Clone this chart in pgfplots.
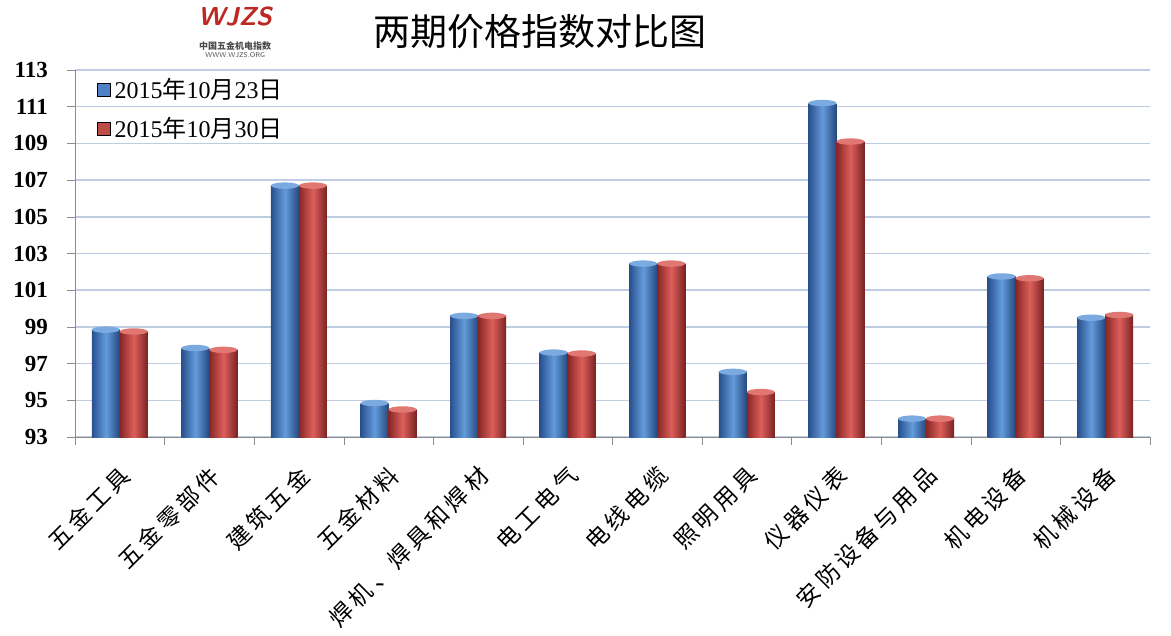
\documentclass[border=0pt]{standalone}
\usepackage{pgfplots}
\usepackage{pgfplotstable}
\pgfplotsset{compat=1.18}
\usepackage{fontspec}
\setmainfont{Liberation Serif}
\newfontfamily\cjk{Noto Sans CJK SC}
\newfontfamily\cjkls[LetterSpace=18]{Noto Sans CJK SC}
\definecolor{blueL}{RGB}{100,155,220}
\definecolor{blueD}{RGB}{40,80,140}
\definecolor{redL}{RGB}{220,95,90}
\definecolor{redD}{RGB}{135,38,38}
\definecolor{blueF}{RGB}{80,130,200}
\definecolor{redF}{RGB}{190,75,70}
\definecolor{gridc}{RGB}{190,205,225}
\definecolor{axc}{RGB}{140,140,140}
\definecolor{logo}{RGB}{190,40,35}

\pgfdeclareplotmark{cap}{%
  \pgfpathellipse{\pgfpointorigin}{\pgfqpoint{7pt}{0pt}}{\pgfqpoint{0pt}{1.6pt}}%
  \pgfusepathqfill}

% x  wk1 (10/23)  wk2 (10/30)
\pgfplotstableread{
x  a       b
0  98.85   98.75
1  97.85   97.75
2  106.7   106.7
3  94.85   94.5
4  99.6    99.6
5  97.6    97.55
6  102.45  102.45
7  96.55   95.45
8  111.2   109.1
9  94.0    94.0
10 101.75  101.65
11 99.5    99.65
}\data

\begin{document}
\begin{tikzpicture}
\begin{axis}[
    scale only axis,
    width=537.5pt, height=183.5pt,
    ybar, bar width=14pt,
    xmin=-0.5, xmax=11.5,
    ymin=93, ymax=113,
    ytick={93,95,...,113},
    xtick={0,...,11},
    xticklabels={五金工具,五金零部件,建筑五金,五金材料,焊机、焊具和焊材,电工电气,电线电缆,照明用具,仪器仪表,安防设备与用品,机电设备,机械设备},
    x tick label style={font=\cjkls\fontsize{11.5}{11.5}\selectfont, rotate=45, anchor=north east, inner sep=0pt, yshift=-6pt, xshift=-7pt},
    y tick label style={font=\bfseries\fontsize{11.5}{11.5}\selectfont, xshift=-6pt},
    /pgf/number format/assume math mode=true,
    minor xtick={-0.5,0.5,...,11.5},
    major x tick style={draw=none},
    tick align=outside,
    major tick length=4pt, minor tick length=4pt,
    tick style={axc},
    axis x line*=bottom, axis y line*=left,
    axis line style={axc, -},
    ymajorgrids, grid style={gridc, line width=0.8pt},
    clip=false,
    legend style={at={(0.02,0.99)}, anchor=north west, draw=none, fill=none,
        font=\fontsize{12}{12}\selectfont, row sep=4pt, inner sep=0pt},
    legend cell align=left,
    legend image code/.code={\fill[#1] (0pt,-3.2pt) rectangle (6.5pt,3.2pt);},
]
\addlegendimage{fill=blueF}
\addlegendimage{fill=redF}
\pgfplotsinvokeforeach{0,...,11}{
  \addplot[forget plot, draw=none, bar shift=-7pt,
    left color=blueD, right color=blueD!90!black, middle color=blueL,
    mark=cap, mark options={xshift=-7pt, fill=blueL!85!white}]
    table[x=x, y=a, restrict x to domain=#1:#1] {\data};
  \addplot[forget plot, draw=none, bar shift=7pt,
    left color=redD, right color=redD!90!black, middle color=redL,
    mark=cap, mark options={xshift=7pt, fill=redL!85!white}]
    table[x=x, y=b, restrict x to domain=#1:#1] {\data};
}
\legend{2015{\cjk 年}10{\cjk 月}23{\cjk 日}, 2015{\cjk 年}10{\cjk 月}30{\cjk 日}}
\coordinate (bl) at (rel axis cs:0,0);
\node[font=\cjk\fontsize{18.5}{18.5}\selectfont] at (axis description cs:0.433,1.104) {两期价格指数对比图};
\node[font=\sffamily\bfseries\itshape\fontsize{13}{13}\selectfont, text=logo] at (axis description cs:0.149,1.145) {WJZS};
\node[font=\cjk\bfseries\fontsize{4.5}{4.5}\selectfont, text=black!70] at (axis description cs:0.149,1.065) {中国五金机电指数};
\node[font=\sffamily\fontsize{3.5}{3.5}\selectfont, text=black!70] at (axis description cs:0.149,1.04) {WWW.WJZS.ORG};
\end{axis}
\pgfresetboundingbox
\path[use as bounding box] (bl) ++(-37.5pt,-99.5pt) rectangle ++(585.5pt,318pt);
\end{tikzpicture}
\end{document}
